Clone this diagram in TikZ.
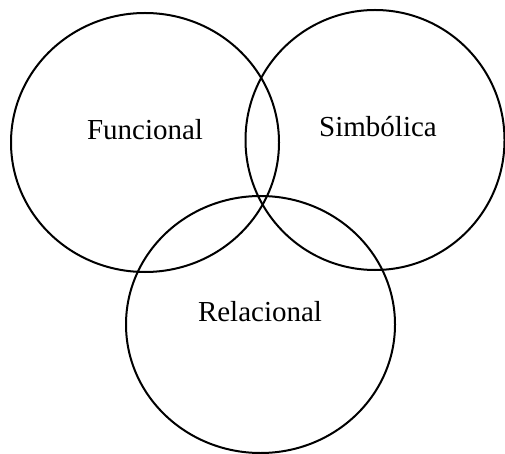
\documentclass[tikz,border=0pt]{standalone}
\usepackage{fontspec}
\setmainfont{Liberation Serif}
\usetikzlibrary{positioning}
\tikzset{setring/.style={line width=2pt}}
\tikzset{setlabel/.style={font=\fontsize{29}{34}\selectfont}}

\begin{document}
\begin{tikzpicture}[x=1pt,y=-1pt]
      \useasboundingbox (0,0) rectangle (505,454);
      \coordinate (func) at (145,142.5);
      \coordinate (simb) at (375,140);
      \coordinate (rel) at (260.5,324.5);
      \draw[setring] (func) ellipse [x radius=134, y radius=129.5];
      \draw[setring] (simb) ellipse [x radius=129.5, y radius=130];
      \draw[setring] (rel) ellipse [x radius=134.5, y radius=128.5];
      \node[setlabel] (funclabel) at (145,130) {Funcional};
      \node[setlabel] (simblabel) at (378,127) {Simbólica};
      \node[setlabel] (rellabel) at (260,312) {Relacional};
    \end{tikzpicture}
\end{document}
